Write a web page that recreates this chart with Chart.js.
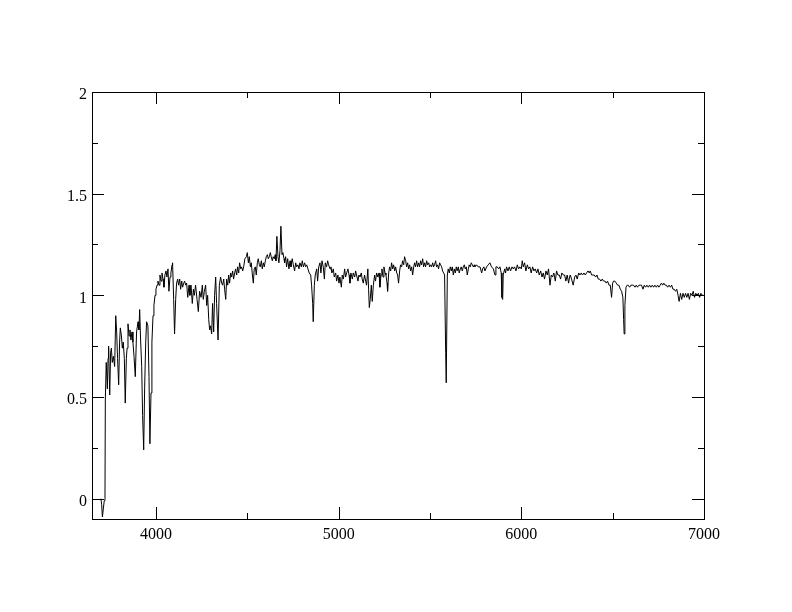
<!DOCTYPE html>
<html>
<head>
<meta charset="utf-8">
<script src="https://cdn.jsdelivr.net/npm/chart.js@4"></script>
<style>
  html, body { margin: 0; padding: 0; background: #fff; }
  canvas { display: block; }
</style>
</head>
<body>
<canvas id="spec" width="792" height="612"></canvas>
<script>
// Wavelength (Angstrom) and normalised flux
const wavelength = [
  3699, 3703, 3707, 3712, 3717, 3721, 3723, 3728, 3734, 3738, 3741, 3747, 3752, 3756, 3761, 3767, 3774, 3780, 3785, 3790,
  3796, 3801, 3805, 3811, 3816, 3821, 3827, 3832, 3838, 3842, 3847, 3853, 3858, 3863, 3869, 3874, 3880, 3887, 3894, 3902,
  3907, 3911, 3916, 3922, 3927, 3933, 3938, 3944, 3949, 3956, 3962, 3967, 3973, 3978, 3984, 3989, 3995, 4000, 4006, 4011,
  4017, 4022, 4028, 4033, 4039, 4044, 4049, 4055, 4060, 4066, 4071, 4077, 4082, 4088, 4091, 4097, 4102, 4108, 4113, 4119,
  4124, 4130, 4135, 4141, 4146, 4152, 4157, 4163, 4168, 4174, 4181, 4186, 4192, 4199, 4205, 4210, 4217, 4225, 4232, 4239,
  4247, 4254, 4259, 4265, 4272, 4278, 4283, 4289, 4294, 4299, 4305, 4310, 4316, 4321, 4327, 4332, 4340, 4347, 4354, 4360,
  4365, 4371, 4376, 4382, 4387, 4393, 4398, 4403, 4409, 4414, 4420, 4425, 4431, 4436, 4442, 4447, 4453, 4458, 4464, 4469,
  4475, 4480, 4487, 4495, 4500, 4506, 4511, 4517, 4522, 4527, 4533, 4538, 4544, 4549, 4555, 4560, 4566, 4571, 4577, 4582,
  4588, 4593, 4599, 4604, 4610, 4615, 4621, 4626, 4631, 4637, 4642, 4648, 4653, 4657, 4662, 4668, 4673, 4679, 4684, 4690,
  4695, 4701, 4704, 4710, 4715, 4721, 4728, 4734, 4739, 4746, 4752, 4759, 4765, 4770, 4777, 4783, 4788, 4796, 4801, 4807,
  4814, 4819, 4825, 4832, 4839, 4847, 4852, 4858, 4861, 4867, 4872, 4880, 4885, 4891, 4898, 4903, 4909, 4916, 4922, 4927,
  4934, 4940, 4945, 4953, 4958, 4963, 4971, 4976, 4984, 4989, 4996, 5002, 5007, 5015, 5020, 5026, 5033, 5038, 5044, 5051,
  5057, 5062, 5067, 5075, 5080, 5088, 5093, 5098, 5106, 5111, 5117, 5124, 5129, 5135, 5142, 5148, 5153, 5160, 5164, 5168,
  5173, 5179, 5184, 5190, 5197, 5202, 5208, 5215, 5221, 5226, 5232, 5237, 5243, 5248, 5254, 5259, 5265, 5268, 5274, 5279,
  5285, 5290, 5296, 5301, 5307, 5312, 5318, 5323, 5328, 5334, 5339, 5345, 5350, 5356, 5361, 5367, 5372, 5378, 5383, 5389,
  5394, 5400, 5405, 5411, 5416, 5421, 5427, 5432, 5438, 5443, 5449, 5454, 5460, 5465, 5471, 5476, 5482, 5487, 5493, 5498,
  5504, 5509, 5515, 5520, 5525, 5531, 5536, 5542, 5547, 5553, 5558, 5564, 5569, 5575, 5580, 5586, 5589, 5595, 5600, 5606,
  5611, 5617, 5622, 5628, 5633, 5639, 5644, 5649, 5655, 5660, 5666, 5671, 5677, 5682, 5688, 5693, 5699, 5704, 5710, 5715,
  5721, 5726, 5732, 5737, 5743, 5746, 5755, 5764, 5774, 5783, 5788, 5795, 5801, 5810, 5819, 5828, 5837, 5847, 5856, 5861,
  5868, 5876, 5883, 5890, 5894, 5898, 5901, 5909, 5914, 5919, 5927, 5934, 5941, 5949, 5956, 5963, 5971, 5978, 5985, 5992,
  6000, 6005, 6011, 6018, 6025, 6033, 6040, 6047, 6054, 6062, 6069, 6076, 6084, 6091, 6098, 6106, 6113, 6120, 6127, 6135,
  6142, 6149, 6157, 6164, 6171, 6178, 6186, 6193, 6200, 6208, 6215, 6222, 6230, 6237, 6244, 6251, 6259, 6264, 6268, 6275,
  6284, 6292, 6299, 6306, 6314, 6321, 6328, 6335, 6343, 6350, 6357, 6365, 6372, 6377, 6385, 6392, 6399, 6407, 6414, 6421,
  6428, 6436, 6443, 6450, 6458, 6465, 6472, 6480, 6487, 6494, 6500, 6505, 6512, 6520, 6527, 6534, 6542, 6549, 6556, 6560,
  6563, 6567, 6573, 6580, 6585, 6593, 6600, 6607, 6614, 6622, 6629, 6636, 6644, 6651, 6658, 6666, 6673, 6680, 6687, 6695,
  6702, 6709, 6717, 6724, 6731, 6739, 6746, 6753, 6760, 6767, 6774, 6780, 6787, 6794, 6801, 6809, 6816, 6823, 6830, 6837,
  6844, 6851, 6858, 6864, 6871, 6878, 6885, 6892, 6899, 6906, 6913, 6920, 6927, 6934, 6941, 6948, 6955, 6962, 6969, 6976,
  6983, 6990, 6997
];
const flux = [
  0.00, -0.03, -0.09, -0.05, -0.01, 0.00, 0.49, 0.67, 0.54, 0.69, 0.75, 0.51, 0.72, 0.74, 0.67, 0.70, 0.65, 0.90, 0.82, 0.69,
  0.56, 0.77, 0.84, 0.80, 0.74, 0.77, 0.69, 0.47, 0.69, 0.74, 0.86, 0.80, 0.83, 0.78, 0.82, 0.77, 0.70, 0.60, 0.82, 0.87,
  0.83, 0.93, 0.78, 0.65, 0.41, 0.24, 0.54, 0.77, 0.87, 0.85, 0.60, 0.27, 0.52, 0.77, 0.90, 0.95, 1.00, 1.03, 1.05, 1.07,
  1.05, 1.10, 1.07, 1.11, 1.08, 1.04, 1.10, 1.12, 1.09, 1.13, 1.02, 1.09, 1.11, 1.15, 1.16, 0.98, 0.81, 0.98, 1.06, 1.08,
  1.05, 1.08, 1.03, 1.07, 1.04, 1.06, 1.07, 1.05, 1.06, 0.99, 1.05, 1.00, 1.05, 0.96, 1.03, 1.00, 1.05, 0.98, 0.92, 1.02,
  0.99, 1.05, 0.98, 1.02, 1.05, 0.95, 1.00, 0.88, 0.83, 0.85, 0.81, 0.96, 0.82, 1.00, 1.09, 0.96, 0.78, 1.05, 1.09, 1.06,
  1.05, 1.08, 1.03, 0.98, 1.08, 1.05, 1.10, 1.06, 1.11, 1.09, 1.12, 1.08, 1.11, 1.13, 1.10, 1.14, 1.11, 1.16, 1.13, 1.14,
  1.12, 1.14, 1.18, 1.19, 1.21, 1.16, 1.19, 1.14, 1.16, 1.11, 1.06, 1.13, 1.14, 1.10, 1.16, 1.18, 1.15, 1.14, 1.17, 1.13,
  1.16, 1.14, 1.17, 1.19, 1.20, 1.18, 1.19, 1.21, 1.19, 1.17, 1.19, 1.18, 1.20, 1.17, 1.29, 1.19, 1.16, 1.22, 1.34, 1.20,
  1.21, 1.18, 1.16, 1.19, 1.14, 1.18, 1.13, 1.17, 1.14, 1.18, 1.15, 1.12, 1.16, 1.14, 1.15, 1.13, 1.16, 1.14, 1.17, 1.14,
  1.16, 1.14, 1.15, 1.13, 1.11, 1.10, 1.05, 0.96, 0.87, 1.05, 1.10, 1.13, 1.07, 1.14, 1.16, 1.11, 1.17, 1.14, 1.08, 1.16,
  1.14, 1.17, 1.15, 1.13, 1.14, 1.11, 1.13, 1.09, 1.11, 1.07, 1.10, 1.06, 1.09, 1.04, 1.10, 1.08, 1.13, 1.09, 1.11, 1.13,
  1.10, 1.06, 1.11, 1.08, 1.11, 1.09, 1.12, 1.10, 1.07, 1.10, 1.09, 1.11, 1.08, 1.06, 1.10, 1.07, 1.05, 1.13, 1.03, 0.94,
  0.98, 1.05, 0.97, 1.05, 1.10, 1.07, 1.11, 1.09, 1.11, 1.04, 1.10, 1.13, 1.09, 1.14, 1.11, 1.10, 1.06, 1.02, 1.11, 1.14,
  1.12, 1.16, 1.13, 1.15, 1.12, 1.14, 1.11, 1.10, 1.06, 1.12, 1.15, 1.14, 1.17, 1.15, 1.19, 1.17, 1.14, 1.16, 1.13, 1.15,
  1.12, 1.14, 1.10, 1.14, 1.16, 1.14, 1.17, 1.14, 1.16, 1.14, 1.17, 1.15, 1.18, 1.14, 1.16, 1.14, 1.17, 1.15, 1.16, 1.14,
  1.15, 1.14, 1.16, 1.14, 1.15, 1.17, 1.14, 1.15, 1.13, 1.16, 1.15, 1.14, 1.12, 1.11, 1.10, 0.72, 0.57, 1.10, 1.13, 1.11,
  1.14, 1.12, 1.14, 1.10, 1.13, 1.11, 1.14, 1.12, 1.14, 1.11, 1.13, 1.14, 1.12, 1.14, 1.15, 1.13, 1.14, 1.10, 1.13, 1.15,
  1.14, 1.16, 1.15, 1.14, 1.15, 1.14, 1.15, 1.14, 1.14, 1.11, 1.13, 1.14, 1.12, 1.14, 1.15, 1.16, 1.14, 1.13, 1.10, 1.14,
  1.14, 1.13, 1.14, 1.11, 0.99, 0.98, 1.10, 1.13, 1.11, 1.14, 1.12, 1.14, 1.12, 1.14, 1.13, 1.14, 1.12, 1.15, 1.13, 1.14,
  1.13, 1.17, 1.14, 1.16, 1.12, 1.15, 1.13, 1.14, 1.11, 1.14, 1.12, 1.13, 1.11, 1.13, 1.10, 1.12, 1.09, 1.11, 1.08, 1.12,
  1.10, 1.13, 1.05, 1.10, 1.09, 1.11, 1.07, 1.12, 1.10, 1.10, 1.08, 1.11, 1.10, 1.10, 1.07, 1.10, 1.06, 1.09, 1.10, 1.08,
  1.05, 1.09, 1.10, 1.08, 1.11, 1.10, 1.11, 1.10, 1.11, 1.10, 1.11, 1.12, 1.11, 1.12, 1.10, 1.10, 1.10, 1.09, 1.10, 1.08,
  1.08, 1.07, 1.08, 1.07, 1.07, 1.06, 1.07, 1.05, 1.05, 0.99, 1.06, 1.07, 1.07, 1.06, 1.05, 1.05, 1.03, 1.02, 0.99, 0.88,
  0.81, 0.95, 1.04, 1.05, 1.05, 1.04, 1.05, 1.05, 1.05, 1.04, 1.05, 1.04, 1.05, 1.05, 1.05, 1.03, 1.05, 1.04, 1.05, 1.04,
  1.05, 1.04, 1.05, 1.04, 1.05, 1.04, 1.05, 1.04, 1.05, 1.06, 1.05, 1.06, 1.05, 1.05, 1.04, 1.05, 1.04, 1.05, 1.03, 1.03,
  1.02, 1.03, 1.00, 0.97, 1.01, 0.98, 1.01, 0.99, 1.01, 0.99, 1.01, 0.98, 1.01, 1.00, 1.02, 0.99, 1.01, 1.00, 1.01, 0.99,
  1.01, 1.00, 1.00
];

// axis ticks
const xTicks = [4000, 5000, 6000, 7000];
const xMinorTicks = [4500, 5500, 6500];
const yTicks = [0, 0.5, 1, 1.5, 2];
const yMinorTicks = [0.25, 0.75, 1.25, 1.75];

const points = wavelength.map((w, i) => ({ x: w, y: flux[i] }));

// box frame with inward ticks on all four sides (xmgrace style)
const frameTicks = {
  id: 'frameTicks',
  afterDraw(chart) {
    const { ctx, chartArea: a, scales: { x, y } } = chart;
    ctx.save();
    ctx.strokeStyle = '#000';
    ctx.lineWidth = 1;
    ctx.strokeRect(a.left + 0.5, a.top + 0.5, a.right - a.left, a.bottom - a.top);
    ctx.beginPath();
    const xt = (v, len) => {
      const p = Math.round(x.getPixelForValue(v)) + 0.5;
      ctx.moveTo(p, a.bottom); ctx.lineTo(p, a.bottom - len);
      ctx.moveTo(p, a.top); ctx.lineTo(p, a.top + len);
    };
    const yt = (v, len) => {
      const p = Math.round(y.getPixelForValue(v)) + 0.5;
      ctx.moveTo(a.left, p); ctx.lineTo(a.left + len, p);
      ctx.moveTo(a.right, p); ctx.lineTo(a.right - len, p);
    };
    xTicks.forEach(v => xt(v, 12));
    xMinorTicks.forEach(v => xt(v, 6));
    yTicks.forEach(v => yt(v, 12));
    yMinorTicks.forEach(v => yt(v, 6));
    ctx.stroke();
    ctx.restore();
  }
};

const tickFont = { family: '"Liberation Serif", "Times New Roman", serif', size: 16 };

new Chart(document.getElementById('spec'), {
  type: 'scatter',
  data: {
    datasets: [{
      data: points,
      showLine: true,
      borderColor: '#000',
      borderWidth: 1,
      pointRadius: 0,
      tension: 0
    }]
  },
  options: {
    responsive: false,
    animation: false,
    devicePixelRatio: 1,
    layout: { padding: { left: 0, top: 92, right: 88, bottom: 0 } },
    plugins: { legend: { display: false }, tooltip: { enabled: false } },
    scales: {
      x: {
        type: 'linear',
        min: 3650,
        max: 7000,
        afterBuildTicks: s => { s.ticks = xTicks.map(v => ({ value: v })); },
        afterFit: s => { s.height = 93; },
        grid: { display: false, drawTicks: false },
        border: { display: false },
        ticks: { font: tickFont, color: '#000', padding: 6, maxRotation: 0, callback: v => String(v) }
      },
      y: {
        type: 'linear',
        min: -0.1,
        max: 2,
        afterBuildTicks: s => { s.ticks = yTicks.map(v => ({ value: v })); },
        afterFit: s => { s.width = 92; },
        grid: { display: false, drawTicks: false },
        border: { display: false },
        ticks: { font: tickFont, color: '#000', padding: 5, labelOffset: 3, callback: v => String(v) }
      }
    }
  },
  plugins: [frameTicks]
});
</script>
</body>
</html>
